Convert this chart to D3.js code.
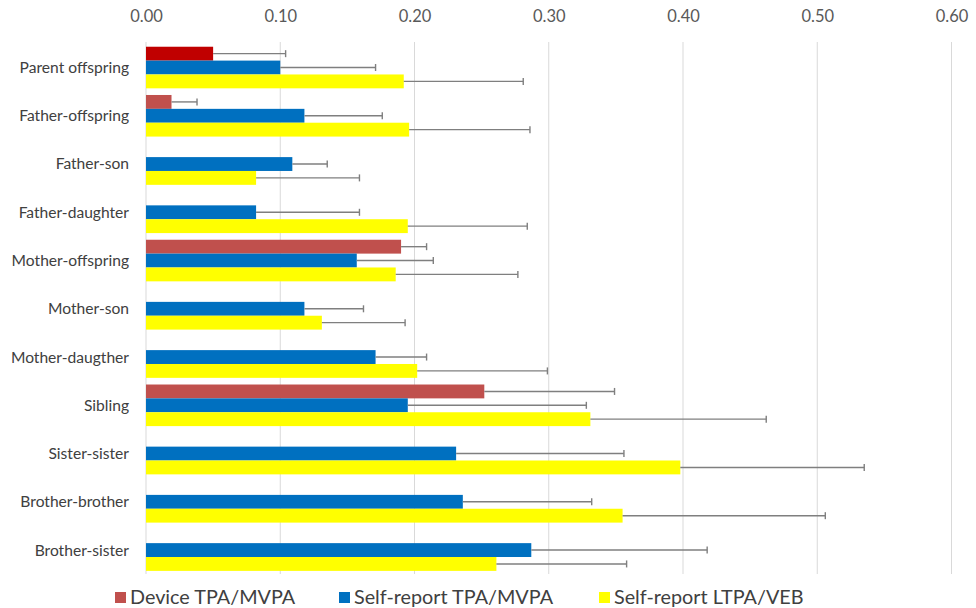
<!DOCTYPE html>
<html>
<head>
<meta charset="utf-8">
<script src="https://cdn.jsdelivr.net/npm/d3@7"></script>
<style>
  html, body { margin: 0; padding: 0; background: #fff; }
  svg { display: block; font-family: Lato, "Open Sans", sans-serif; }
</style>
</head>
<body>
<svg id="chart" width="976" height="608"></svg>
<script>
// Familial correlations of physical activity, by relationship type
const categories = [
  "Parent offspring", "Father-offspring", "Father-son", "Father-daughter",
  "Mother-offspring", "Mother-son", "Mother-daugther", "Sibling",
  "Sister-sister", "Brother-brother", "Brother-sister"
];
const seriesNames = ["Device TPA/MVPA", "Self-report TPA/MVPA", "Self-report LTPA/VEB"];

// Correlation estimates (null = not reported)
const deviceValues = [0.050, 0.019, null, null, 0.190, null, null, 0.252, null, null, null];
const selfTpaValues = [0.100, 0.118, 0.109, 0.082, 0.157, 0.118, 0.171, 0.195, 0.231, 0.236, 0.287];
const selfLtpaValues = [0.192, 0.196, 0.082, 0.195, 0.186, 0.131, 0.202, 0.331, 0.398, 0.355, 0.261];

// Upper confidence limits
const deviceUpper = [0.104, 0.038, null, null, 0.209, null, null, 0.349, null, null, null];
const selfTpaUpper = [0.171, 0.176, 0.135, 0.159, 0.214, 0.162, 0.209, 0.328, 0.356, 0.332, 0.418];
const selfLtpaUpper = [0.281, 0.286, 0.159, 0.284, 0.277, 0.193, 0.299, 0.462, 0.535, 0.506, 0.358];

const tickValues = [0, 0.1, 0.2, 0.3, 0.4, 0.5, 0.6];

const series = [
  { name: seriesNames[0], values: deviceValues, upper: deviceUpper },
  { name: seriesNames[1], values: selfTpaValues, upper: selfTpaUpper },
  { name: seriesNames[2], values: selfLtpaValues, upper: selfLtpaUpper }
];

const colors = ["#C0504D", "#0070C0", "#FFFF00"];
const pooledDeviceColor = "#C00000"; // pooled parent-offspring estimate stands out

const svg = d3.select("#chart");
const plot = { left: 146, right: 951.5, top: 43.4, bottom: 574.2 };

const x = d3.scaleLinear().domain([0, 0.6]).range([plot.left, plot.right]);
const y = d3.scaleBand().domain(categories).range([plot.top, plot.bottom]).padding(0);
const groupGap = y.bandwidth() * 0.138;
const yInner = d3.scaleBand().domain(seriesNames)
  .range([groupGap / 2, y.bandwidth() - groupGap / 2]).padding(0);

// gridlines
svg.append("g")
  .selectAll("line")
  .data(tickValues)
  .join("line")
  .attr("x1", d => x(d)).attr("x2", d => x(d))
  .attr("y1", 42).attr("y2", 574)
  .attr("stroke", "#d9d9d9").attr("stroke-width", 1);

// top axis labels
const axis = d3.axisTop(x).tickValues(tickValues).tickFormat(d3.format(".2f")).tickSize(0);
const axisG = svg.append("g").attr("transform", "translate(0,25)").call(axis);
axisG.select(".domain").remove();
axisG.selectAll("text")
  .attr("font-family", "Lato, sans-serif")
  .attr("font-size", 16.5)
  .attr("fill", "#595959")
  .attr("dy", 0);

// category labels
svg.append("g")
  .selectAll("text")
  .data(categories)
  .join("text")
  .attr("x", 129)
  .attr("y", d => y(d) + y.bandwidth() / 2)
  .attr("dy", "0.35em")
  .attr("text-anchor", "end")
  .attr("font-size", 15.6)
  .attr("fill", "#404040")
  .text(d => d);

// bars + error bars
series.forEach((s, si) => {
  const rows = categories.map((c, i) => ({ c, i, v: s.values[i], u: s.upper[i] }))
    .filter(d => d.v != null);
  const g = svg.append("g");
  const bh = yInner.bandwidth();
  g.selectAll("rect")
    .data(rows)
    .join("rect")
    .attr("x", x(0))
    .attr("y", d => y(d.c) + yInner(s.name))
    .attr("width", d => x(d.v) - x(0))
    .attr("height", bh)
    .attr("fill", d => (si === 0 && d.i === 0) ? pooledDeviceColor : colors[si]);

  const eb = g.selectAll("g.err").data(rows.filter(d => d.u != null)).join("g").attr("class", "err");
  eb.append("line")
    .attr("x1", d => x(d.v)).attr("x2", d => x(d.u))
    .attr("y1", d => y(d.c) + yInner(s.name) + bh / 2)
    .attr("y2", d => y(d.c) + yInner(s.name) + bh / 2)
    .attr("stroke", "#7f7f7f").attr("stroke-width", 1.4);
  eb.append("line")
    .attr("x1", d => x(d.u)).attr("x2", d => x(d.u))
    .attr("y1", d => y(d.c) + yInner(s.name) + bh / 2 - 3.5)
    .attr("y2", d => y(d.c) + yInner(s.name) + bh / 2 + 3.5)
    .attr("stroke", "#7f7f7f").attr("stroke-width", 1.4);
});

// legend
const legendX = [115, 339, 599];
const legend = svg.append("g");
const items = legend.selectAll("g").data(seriesNames).join("g")
  .attr("transform", (d, i) => `translate(${legendX[i]},592)`);
items.append("rect").attr("width", 11).attr("height", 11).attr("fill", (d, i) => colors[i]);
items.append("text")
  .attr("x", 15).attr("y", 11.5)
  .attr("font-size", 19.8)
  .attr("fill", "#404040")
  .text(d => d);
</script>
</body>
</html>
